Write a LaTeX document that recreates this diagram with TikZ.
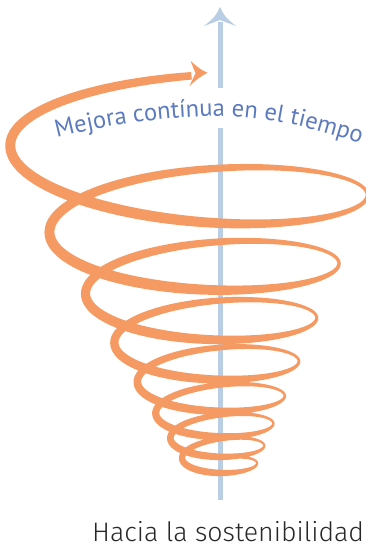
\documentclass[tikz,border=0pt]{standalone}
\usepackage{fontspec}
\newfontfamily\bluefont{PT Sans}
\newfontfamily\lightfont{Fira Sans Light}
\usetikzlibrary{decorations.text,calc}
\definecolor{ribbonorange}{RGB}{245,154,98}
\definecolor{axisblue}{RGB}{185,205,228}
\definecolor{txtblue}{RGB}{92,122,190}
\definecolor{txtgray}{RGB}{40,40,40}
\tikzset{
  ribbon/.style={fill=ribbonorange},
  axisline/.style={draw=axisblue, line width=5pt},
  axishead/.style={fill=axisblue},
}
\begin{document}
\begin{tikzpicture}[x=1pt,y=-1pt]
\useasboundingbox (0,0) rectangle (366,547);
% ---------- vertical axis ----------
\coordinate (axbot) at (220,500);
\coordinate (axgaplo) at (220,128);
\coordinate (axgaphi) at (220,88);
\coordinate (axneck) at (220,22);
\coordinate (axtip) at (220,7);
\coordinate (axbr) at (236,26);
\coordinate (axbl) at (204,26);
\coordinate (axnotch) at (220,20);
\draw[axisline] (axbot) -- (axgaplo);
\draw[axisline] (axgaphi) -- (axneck);
\fill[axishead] (axtip) .. controls (225,17) .. (axbr) -- (axnotch) -- (axbl) .. controls (215,17) .. (axtip) -- cycle;
% ---------- spiral ribbon ----------
\gdef\outerL{}
\gdef\innerL{}
\foreach \i in {0,...,960}{
  \pgfmathsetmacro\t{-91+3*\i}
  \pgfmathsetmacro\n{\t/360}
  \pgfmathsetmacro\dna{(\n-7.45)/0.25}
  \pgfmathsetmacro\dnb{(\n-7.5)/0.3}
  \pgfmathsetmacro\gy{-10*exp(max(-9,-\dna*\dna))}
  \pgfmathsetmacro\gx{6*exp(max(-9,-\dnb*\dnb))}
  \pgfmathsetmacro\A{35*exp(0.00061984*\t)}
  \pgfmathsetmacro\c{cos(\t)}
  \pgfmathsetmacro\s{sin(\t)}
  \pgfmathsetmacro\px{228.4-0.182*\A+\A*\c+\gx}
  \pgfmathsetmacro\py{535-2*\A+(0.27*\A+2)*\s-2*\c+\gy}
  \pgfmathsetmacro\ux{0.035514*(\c-0.182)-\s}
  \pgfmathsetmacro\uy{0.035514*(-2+0.27*\s)+(0.27+2/\A)*\c+2*\s/\A}
  \pgfmathsetmacro\nl{sqrt(\ux*\ux+\uy*\uy)}
  \pgfmathsetmacro\sc{min(1,0.5+0.0035*\A)}
  \pgfmathsetmacro\w{\sc*(7.75-3.25*\c+1.25*\s-1*cos(2*\t))}
  \pgfmathsetmacro\ox{\px+0.5*\w*\uy/\nl}
  \pgfmathsetmacro\oy{\py-0.5*\w*\ux/\nl}
  \pgfmathsetmacro\ix{\px-0.5*\w*\uy/\nl}
  \pgfmathsetmacro\iy{\py+0.5*\w*\ux/\nl}
  \ifnum\i=0
    \xdef\outerL{(\ox,\oy)}
  \else
    \xdef\outerL{\outerL -- (\ox,\oy)}
  \fi
  \xdef\innerL{(\ix,\iy) -- \innerL}
  \ifnum\i=960
    \xdef\endx{\px}\xdef\endy{\py}
  \fi
}
\edef\ribbonpath{\noexpand\fill[ribbon] \outerL -- \innerL cycle;}
\ribbonpath
% ---------- orange arrow head ----------
\coordinate (rend) at (\endx,\endy);
\coordinate (rtop) at ($(rend)+(-1,-15)$);
\coordinate (rtip) at ($(rend)+(16,-3)$);
\coordinate (rbot) at ($(rend)+(-2,10)$);
\coordinate (rnotch) at ($(rend)+(4,-2.5)$);
\fill[ribbon] (rtop) .. controls ($(rend)+(8,-7)$) .. (rtip) .. controls ($(rend)+(8,1.5)$) .. (rbot) -- (rnotch) -- cycle;
% ---------- texts ----------
\path[decorate, decoration={text along path, text color=txtblue,
  text={|\bluefont\fontsize{24.5}{29}\selectfont|Mejora contínua en el tiempo}}]
  (57,138) .. controls (120,122) and (170,117) .. (220,116) .. controls (275,117) and (320,130) .. (380,150);
\node[anchor=base west, inner sep=0pt, text=txtgray, font=\lightfont\fontsize{26.7}{30}\selectfont] (lbl) at (92,541) {Hacia la sostenibilidad};
\end{tikzpicture}
\end{document}
